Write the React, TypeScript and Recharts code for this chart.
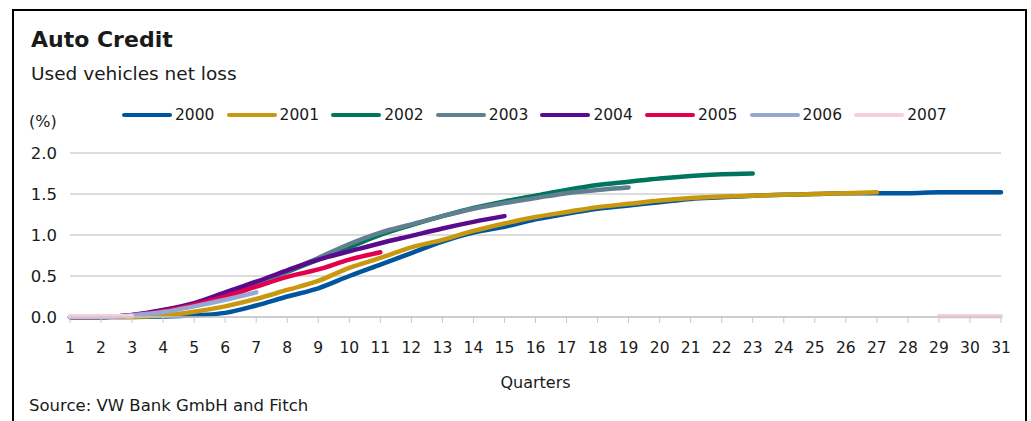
import { LineChart, Line, CartesianGrid, XAxis, YAxis, Legend, Label } from 'recharts';

const quarters = Array.from({ length: 31 }, (_, i) => i + 1)

const years = ['2000', '2001', '2002', '2003', '2004', '2005', '2006', '2007']

const colors = ['#00559f', '#c8980e', '#00755e', '#608090', '#5a0a8c', '#e2004e', '#95a7d2', '#f6cfdf']

const loss2000 = [0, 0, 0, 0.005, 0.02, 0.05, 0.14, 0.25, 0.35, 0.5, 0.64, 0.78, 0.92, 1.03, 1.1, 1.19, 1.26, 1.32, 1.36, 1.4, 1.44, 1.46, 1.48, 1.49, 1.5, 1.51, 1.51, 1.51, 1.52, 1.52, 1.52]
const loss2001 = [0, 0, 0, 0.02, 0.065, 0.13, 0.22, 0.33, 0.44, 0.6, 0.72, 0.85, 0.94, 1.05, 1.14, 1.22, 1.28, 1.34, 1.38, 1.42, 1.45, 1.47, 1.48, 1.49, 1.5, 1.51, 1.52]
const loss2002 = [0, 0, 0.02, 0.08, 0.16, 0.29, 0.41, 0.55, 0.7, 0.85, 1.0, 1.12, 1.23, 1.33, 1.41, 1.48, 1.55, 1.61, 1.65, 1.69, 1.72, 1.74, 1.75]
const loss2003 = [0, 0, 0.02, 0.07, 0.15, 0.27, 0.4, 0.56, 0.72, 0.89, 1.03, 1.13, 1.23, 1.32, 1.39, 1.45, 1.51, 1.55, 1.58]
const loss2004 = [0, 0, 0.025, 0.085, 0.17, 0.3, 0.43, 0.57, 0.7, 0.8, 0.9, 0.99, 1.08, 1.16, 1.23]
const loss2005 = [0, 0, 0.02, 0.07, 0.15, 0.25, 0.37, 0.49, 0.58, 0.7, 0.79]
const loss2006 = [0, 0, 0.02, 0.06, 0.13, 0.21, 0.3]
const loss2007: (number | null)[] = [0.01, 0.01, 0.01, ...Array(25).fill(null), 0.01, 0.01, 0.01]

const series = [loss2000, loss2001, loss2002, loss2003, loss2004, loss2005, loss2006, loss2007]

const yTicks = [0, 0.5, 1, 1.5, 2]

const data = quarters.map((q, i) => {
  const row: { [key: string]: number | null } = { q }
  years.forEach((y, j) => {
    const v = series[j][i]
    row[y] = v === undefined ? null : v
  })
  return row
})

const font = '"DejaVu Sans", sans-serif'
const ink = '#1a1a1a'

const renderLegend = () => (
  <div style={{ position: 'relative', height: 20 }}>
    {years.map((y, i) => (
      <div key={y} style={{ position: 'absolute', left: i * 104.6, top: 0, display: 'flex', alignItems: 'center', height: 20 }}>
        <svg width={52} height={20}>
          <line x1={2} y1={10} x2={48} y2={10} stroke={colors[i]} strokeWidth={4} strokeLinecap="round" />
        </svg>
        <span style={{ fontFamily: font, fontSize: 15.5, color: ink, marginLeft: 1 }}>{y}</span>
      </div>
    ))}
  </div>
)

const App = () => {
  return (
    <div style={{ position: 'absolute', left: 0, top: 0, width: 1031, height: 421, background: '#fff', overflow: 'hidden' }}>
      <div style={{ position: 'absolute', left: 12, top: 9, width: 1011, height: 440, border: '2px solid #000', borderBottom: 'none' }} />
      <div style={{ position: 'absolute', left: 31, top: 27, fontFamily: font, fontSize: 22, fontWeight: 'bold', color: ink }}>Auto Credit</div>
      <div style={{ position: 'absolute', left: 31, top: 63, fontFamily: font, fontSize: 18.5, color: ink }}>Used vehicles net loss</div>
      <div style={{ position: 'absolute', left: 29, top: 112, fontFamily: font, fontSize: 16, color: ink }}>(%)</div>
      <div style={{ position: 'absolute', left: 29, top: 396, fontFamily: font, fontSize: 16.5, color: ink }}>Source: VW Bank GmbH and Fitch</div>
      <div style={{ position: 'absolute', left: 0, top: 0 }}>
        <LineChart width={1031} height={421} data={data} margin={{ top: 133, right: 30, bottom: 0, left: 0 }}>
          <CartesianGrid vertical={false} stroke="#d0d0d0" strokeWidth={1.5} />
          <XAxis
            dataKey="q"
            height={104}
            tick={{ fill: ink, fontSize: 15.5, fontFamily: font }}
            tickLine={{ stroke: '#c8c8c8' }}
            axisLine={{ stroke: '#c8c8c8', strokeWidth: 1.5 }}
            tickSize={6}
            tickMargin={19}
            interval={0}
          >
            <Label value="Quarters" position="insideBottom" offset={33} style={{ fill: ink, fontSize: 16, fontFamily: font }} />
          </XAxis>
          <YAxis
            width={70}
            domain={[0, 2]}
            ticks={yTicks}
            tickFormatter={(v: number) => v.toFixed(1)}
            tick={{ fill: ink, fontSize: 16.5, fontFamily: font }}
            axisLine={false}
            tickLine={false}
            tickSize={0}
            tickMargin={13}
          />
          <Legend content={renderLegend} verticalAlign="top" wrapperStyle={{ top: 105, left: 122, width: 880, height: 20 }} />
          {years.map((y, i) => (
            <Line
              key={y}
              type="monotone"
              dataKey={y}
              stroke={colors[i]}
              strokeWidth={4.5}
              dot={false}
              activeDot={false}
              isAnimationActive={false}
              strokeLinecap="round"
            />
          ))}
        </LineChart>
      </div>
    </div>
  )
}

export default App
